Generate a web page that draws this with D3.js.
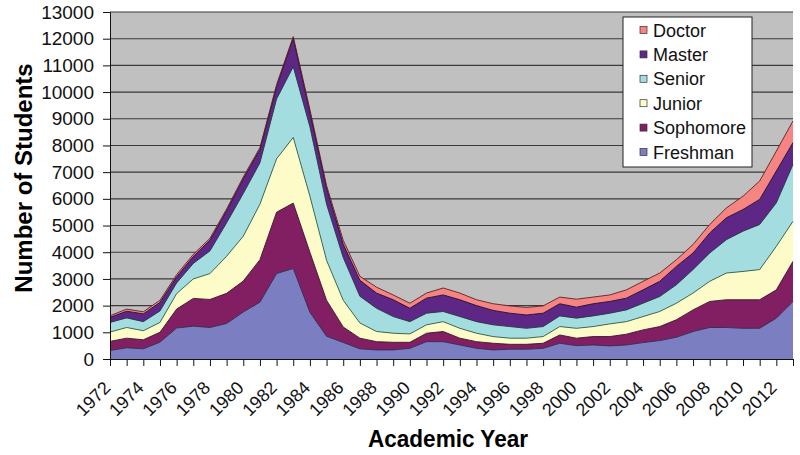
<!DOCTYPE html>
<html>
<head>
<meta charset="utf-8">
<script src="https://cdn.jsdelivr.net/npm/d3@7"></script>
<style>
  body { margin: 0; background: #fff; }
  svg { font-family: "Liberation Sans", Arial, sans-serif; }
</style>
</head>
<body>
<div id="chart"></div>
<script>
// academic years, one point per year
var years = d3.range(1972, 2014);

// enrolment per level
var freshman  = [320, 420, 380, 630, 1160, 1230, 1180, 1330, 1760, 2130, 3200, 3390, 1750, 850, 620, 380, 340, 340, 400, 650, 650, 525, 400, 340, 365, 365, 400, 590, 500, 525, 490, 525, 615, 690, 815, 1030, 1180, 1180, 1150, 1150, 1530, 2155];
var sophomore = [340, 360, 340, 370, 710, 1040, 1050, 1130, 1160, 1590, 2300, 2450, 2250, 1350, 580, 400, 310, 285, 225, 315, 380, 255, 250, 250, 185, 185, 190, 310, 280, 315, 350, 405, 475, 525, 655, 810, 975, 1040, 1070, 1070, 1060, 1505];
var junior    = [350, 400, 340, 370, 580, 730, 970, 1390, 1680, 2080, 2000, 2460, 2100, 1500, 1000, 570, 380, 340, 315, 315, 370, 370, 315, 250, 230, 230, 250, 315, 370, 375, 475, 470, 500, 565, 620, 630, 755, 1000, 1060, 1130, 1630, 1500];
var senior    = [360, 360, 340, 430, 400, 580, 850, 1250, 1600, 1550, 2240, 2650, 2600, 2100, 1600, 1000, 870, 625, 460, 435, 380, 440, 435, 440, 435, 370, 375, 400, 380, 400, 400, 440, 500, 560, 690, 880, 1060, 1250, 1510, 1690, 1630, 2130];
var master    = [190, 250, 290, 320, 230, 260, 400, 450, 550, 500, 460, 1070, 550, 600, 500, 600, 570, 630, 500, 565, 620, 630, 600, 540, 500, 500, 500, 455, 410, 455, 440, 440, 500, 570, 690, 620, 750, 820, 810, 940, 1190, 820];
var doctor    = [60, 80, 80, 80, 80, 80, 70, 70, 70, 70, 80, 60, 100, 100, 150, 150, 220, 180, 190, 190, 260, 250, 220, 250, 275, 280, 275, 250, 300, 250, 245, 310, 320, 310, 250, 320, 320, 370, 500, 690, 750, 810];

var levels = ["Freshman", "Sophomore", "Junior", "Senior", "Master", "Doctor"];
var colors = ["#7b7fc2", "#821f62", "#fdfcc8", "#a4dde0", "#5f2785", "#f68482"];
var edges  = ["#2b2b55", "#3a0b2a", "#2f5a45", "#1f3a3e", "#1a0a2a", "#5a2222"];
var yTicks = d3.range(0, 14000, 1000);

var width = 800, height = 455;
var plotLeft = 110, plotRight = 793, plotTop = 12, plotBottom = 359;

var rows = years.map(function(yr, i) {
    return {year: yr, Freshman: freshman[i], Sophomore: sophomore[i], Junior: junior[i],
            Senior: senior[i], Master: master[i], Doctor: doctor[i]};
});

var svg = d3.select("#chart").append("svg")
    .attr("width", width)
    .attr("height", height);

var x = d3.scaleLinear().domain([1972, 2013]).range([plotLeft, plotRight]);
var y = d3.scaleLinear().domain([0, 13000]).range([plotBottom, plotTop]);

// plot background
svg.append("rect")
    .attr("x", plotLeft).attr("y", plotTop)
    .attr("width", plotRight - plotLeft).attr("height", plotBottom - plotTop)
    .attr("fill", "#c0c0c0");

// gridlines
svg.append("g")
    .selectAll("line")
    .data(yTicks.slice(1))
    .enter()
    .append("line")
    .attr("x1", plotLeft).attr("x2", plotRight)
    .attr("y1", function(d) { return y(d); })
    .attr("y2", function(d) { return y(d); })
    .attr("stroke", "#3a3a3a")
    .attr("stroke-width", 1.1);

var stack = d3.stack().keys(levels);
var series = stack(rows);

var area = d3.area()
    .x(function(d) { return x(d.data.year); })
    .y0(function(d) { return y(d[0]); })
    .y1(function(d) { return y(d[1]); });

var topLine = d3.line()
    .x(function(d) { return x(d.data.year); })
    .y(function(d) { return y(d[1]); });

svg.append("g")
    .selectAll("path")
    .data(series)
    .enter()
    .append("path")
    .attr("d", area)
    .attr("fill", function(d, i) { return colors[i]; });

svg.append("g")
    .selectAll("path")
    .data(series)
    .enter()
    .append("path")
    .attr("d", topLine)
    .attr("fill", "none")
    .attr("stroke", function(d, i) { return edges[i]; })
    .attr("stroke-width", 0.9);

// y axis
var yAxis = d3.axisLeft(y)
    .tickValues(yTicks)
    .tickSize(7)
    .tickPadding(9)
    .tickFormat(d3.format("d"));

var gy = svg.append("g")
    .attr("transform", "translate(" + plotLeft + ",0)")
    .call(yAxis);
gy.selectAll("text").style("font-size", "19px").attr("fill", "#111");
gy.selectAll("line, path").attr("stroke", "#111");

// x axis, a tick every year, a label every other year
var xAxis = d3.axisBottom(x)
    .tickValues(years)
    .tickSize(7)
    .tickFormat(function(d) { return (d - 1972) % 2 === 0 ? d : ""; });

var gx = svg.append("g")
    .attr("transform", "translate(0," + plotBottom + ")")
    .call(xAxis);
gx.selectAll("line, path").attr("stroke", "#111");
gx.selectAll("text")
    .style("font-size", "18px")
    .style("text-anchor", "end")
    .attr("fill", "#111")
    .attr("x", 0)
    .attr("y", 0)
    .attr("dy", 0)
    .attr("transform", "translate(1,30) rotate(-45)");

// axis titles
svg.append("text")
    .attr("x", 448).attr("y", 447)
    .attr("text-anchor", "middle")
    .attr("textLength", 160)
    .attr("lengthAdjust", "spacingAndGlyphs")
    .style("font-size", "24px")
    .style("font-weight", "bold")
    .text("Academic Year");

svg.append("text")
    .attr("transform", "translate(32,178) rotate(-90)")
    .attr("text-anchor", "middle")
    .style("font-size", "24px")
    .style("font-weight", "bold")
    .text("Number of Students");

// legend
var legend = svg.append("g");
legend.append("rect")
    .attr("x", 623).attr("y", 17)
    .attr("width", 129).attr("height", 150)
    .attr("fill", "#fff")
    .attr("stroke", "#222");

var order = levels.slice().reverse();
var item = legend.selectAll(".item")
    .data(order)
    .enter()
    .append("g")
    .attr("class", "item")
    .attr("transform", function(d, i) { return "translate(0," + (30 + i * 24.4) + ")"; });

item.append("rect")
    .attr("x", 640).attr("y", -3.5)
    .attr("width", 7).attr("height", 7)
    .attr("fill", function(d) { return colors[levels.indexOf(d)]; })
    .attr("stroke", "#333")
    .attr("stroke-width", 0.7);

item.append("text")
    .attr("x", 653).attr("y", 6.5)
    .style("font-size", "18px")
    .attr("fill", "#111")
    .text(function(d) { return d; });
</script>
</body>
</html>
